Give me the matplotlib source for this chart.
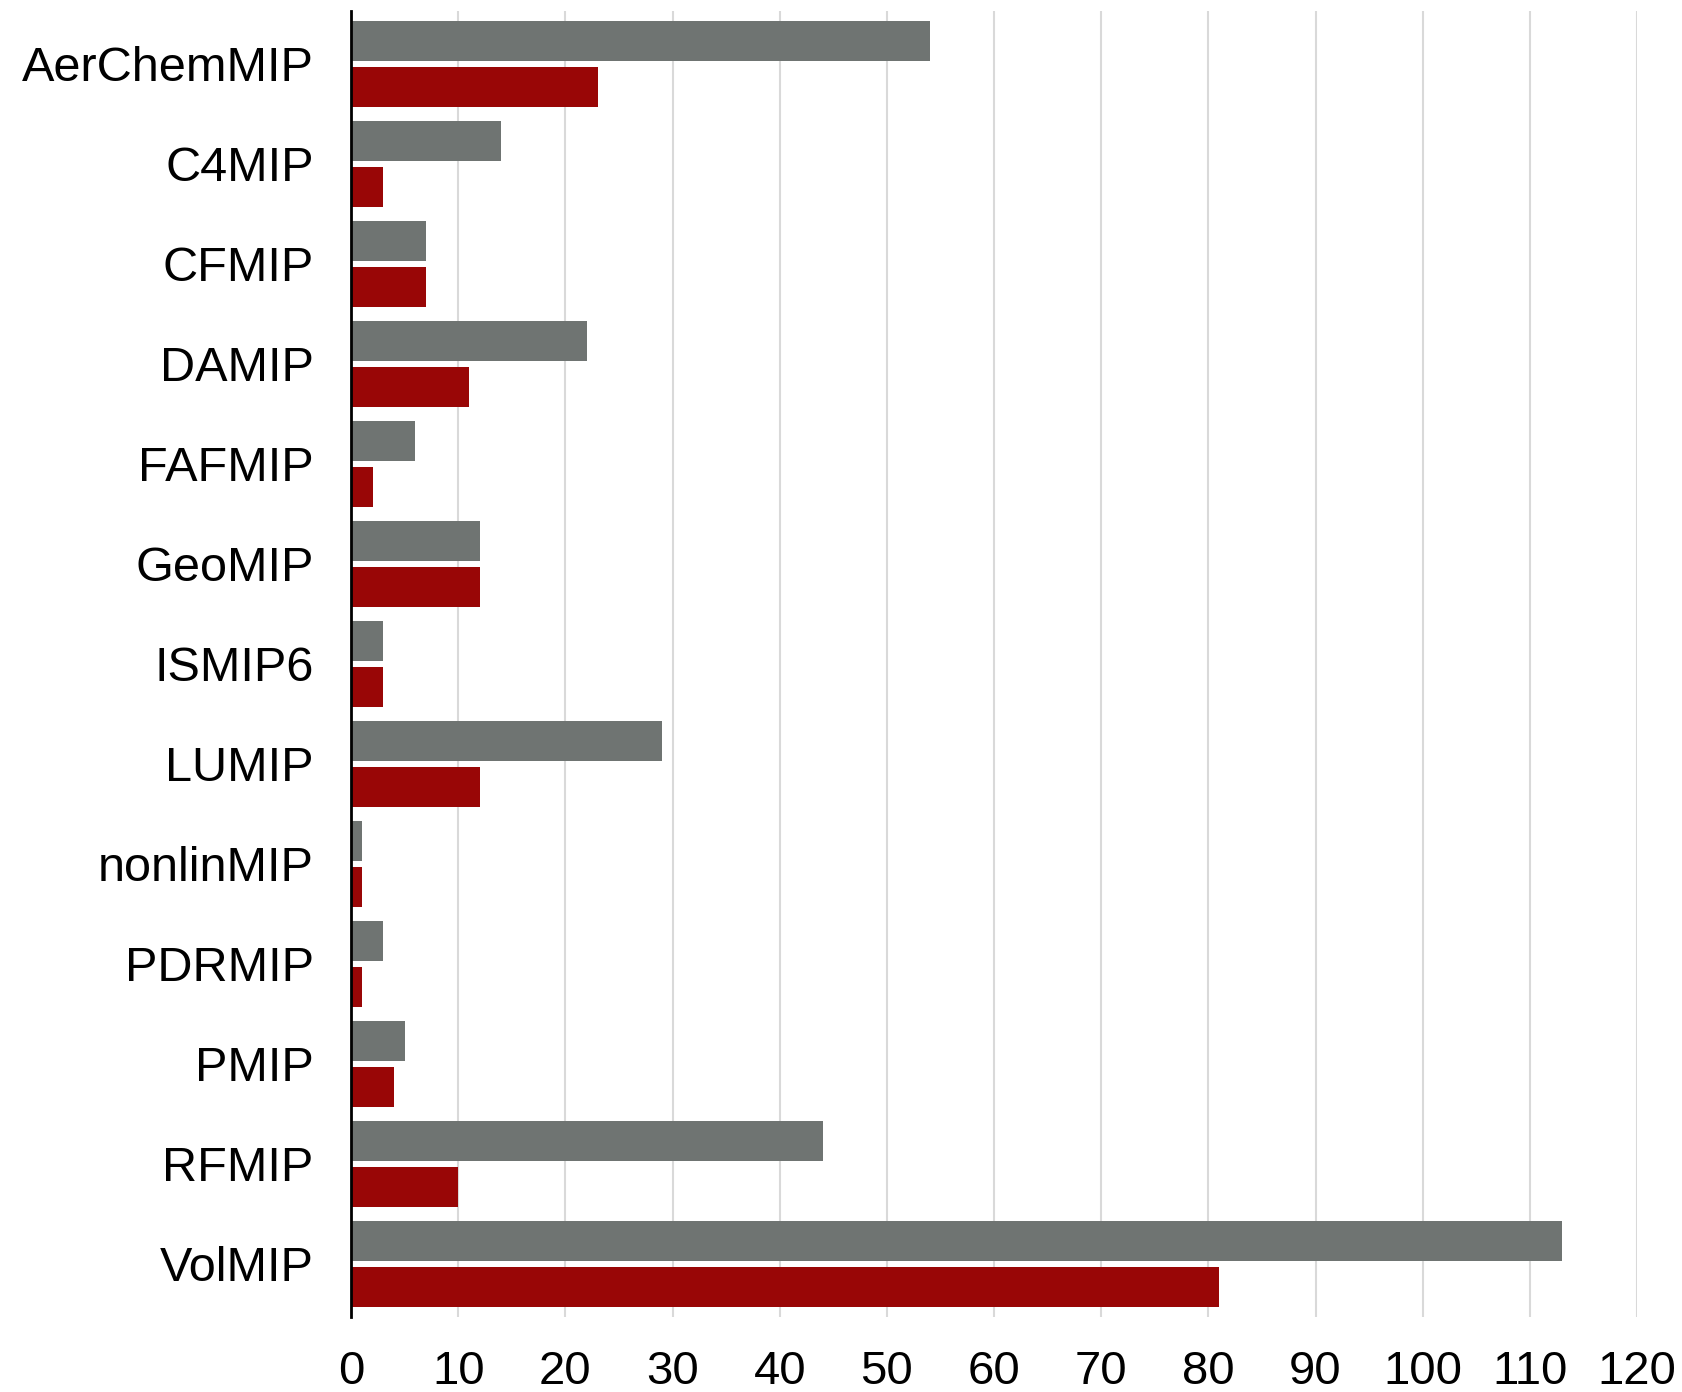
import numpy as np
import matplotlib.pyplot as plt

# MIP names and the two series (grey on top, red below)
mips = ["AerChemMIP", "C4MIP", "CFMIP", "DAMIP", "FAFMIP", "GeoMIP", "ISMIP6",
        "LUMIP", "nonlinMIP", "PDRMIP", "PMIP", "RFMIP", "VolMIP"]
grey_vals = [54, 14, 7, 22, 6, 12, 3, 29, 1, 3, 5, 44, 113]
red_vals = [23, 3, 7, 11, 2, 12, 3, 12, 1, 1, 4, 10, 81]
xticks = list(range(0, 121, 10))

plt.rcParams['font.family'] = ['Liberation Sans', 'DejaVu Sans']

fig = plt.figure(figsize=(16.83, 13.92), dpi=100)
ax = fig.add_axes([0.2086, 0.0539, 0.7641, 0.9382])

y = np.arange(len(mips))
h = 0.4
ax.barh(y - 0.23, grey_vals, height=h, color="#6f7472", zorder=2)
ax.barh(y + 0.23, red_vals, height=h, color="#990606", zorder=2)

ax.set_xlim(0, 120)
ax.set_ylim(12.53, -0.53)
ax.set_xticks(xticks)
ax.set_yticks(y)
ax.set_yticklabels(mips, fontsize=35)
ax.tick_params(axis="y", length=0, pad=27)
ax.tick_params(axis="x", length=0, pad=24, labelsize=34)

ax.grid(axis="x", color="#d9d9d9", linewidth=1.5, zorder=0)
for s in ["top", "right", "bottom"]:
    ax.spines[s].set_visible(False)
ax.spines["left"].set_linewidth(2)
ax.spines["left"].set_zorder(3)

plt.savefig("out.png", dpi=100)
plt.close(fig)
